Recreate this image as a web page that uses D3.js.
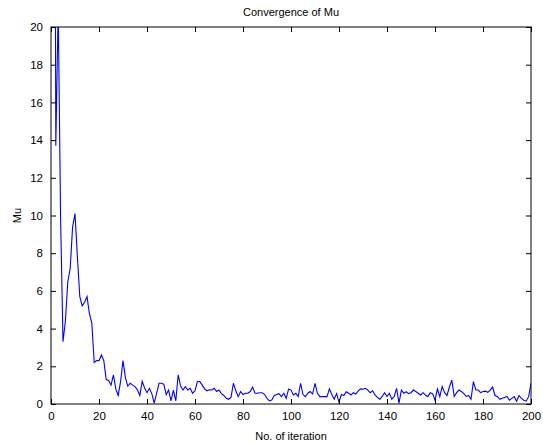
<!DOCTYPE html>
<html>
<head>
<meta charset="utf-8">
<script src="https://cdn.jsdelivr.net/npm/d3@7"></script>
<style>
  body { margin: 0; background: #fff; }
  text { font-family: "Liberation Sans", "DejaVu Sans", sans-serif; fill: #000; }
</style>
</head>
<body>
<div id="chart"></div>
<script>
// Mu value per iteration (1..200) (first one is far off the scale)
var muValues = [
  60, 13.7, 21, 9.85, 3.3, 4.4, 6.5, 7.2, 9.4, 10.1,
  7.8, 5.7, 5.2, 5.4, 5.7, 4.8, 4.3, 2.2, 2.3, 2.3,
  2.6, 2.3, 1.3, 1.25, 1.0, 1.55, 0.8, 0.45, 1.2, 2.3,
  1.4, 0.95, 1.1, 1.0, 0.92, 0.75, 0.45, 1.2, 0.85, 0.6,
  0.83, 0.55, 0.05, 0.57, 1.1, 1.1, 1.05, 0.5, 0.74, 0.17,
  0.74, 0.17, 1.55, 0.95, 0.74, 0.92, 0.74, 0.83, 0.57, 0.7,
  1.19, 1.19, 1.0, 0.8, 0.7, 0.75, 0.74, 0.83, 0.66, 0.74,
  0.55, 0.45, 0.3, 0.25, 0.35, 1.1, 0.7, 0.39, 0.66, 0.5,
  0.57, 0.57, 0.66, 0.9, 0.57, 0.57, 0.6, 0.6, 0.5, 0.3,
  0.17, 0.21, 0.45, 0.5, 0.55, 0.39, 0.57, 0.3, 0.8, 0.74,
  0.48, 0.57, 0.39, 1.1, 0.5, 0.39, 0.57, 0.66, 0.53, 1.1,
  0.57, 0.39, 0.39, 0.39, 0.39, 0.8, 0.5, 0.25, 0.55, 0.1,
  0.5, 0.45, 0.65, 0.57, 0.48, 0.6, 0.53, 0.7, 0.8, 0.78,
  0.83, 0.74, 0.6, 0.7, 0.48, 0.35, 0.25, 0.4, 0.6, 0.4,
  0.57, 0.25, 0.4, 0.83, 0.05, 0.74, 0.57, 0.65, 0.55, 0.6,
  0.74, 0.66, 0.57, 0.48, 0.6, 0.48, 0.39, 0.6, 0.55, 0.2,
  0.8, 0.39, 0.92, 0.6, 0.45, 0.9, 1.27, 0.4, 0.6, 0.74,
  0.66, 0.55, 0.4, 0.45, 0.25, 1.19, 0.75, 0.74, 0.6, 0.66,
  0.68, 0.62, 0.74, 0.9, 0.45, 0.4, 0.25, 0.3, 0.35, 0.4,
  0.2, 0.3, 0.39, 0.15, 0.45, 0.3, 0.2, 0.15, 0.39, 1.1
];
var xTicks = [0, 20, 40, 60, 80, 100, 120, 140, 160, 180, 200];
var yTicks = [0, 2, 4, 6, 8, 10, 12, 14, 16, 18, 20];
var chartTitle = "Convergence of Mu";
var xLabel = "No. of iteration";
var yLabel = "Mu";

var width = 543, height = 443;
var margin = { top: 27, right: 12, bottom: 39, left: 51 };
var innerW = width - margin.left - margin.right,
    innerH = height - margin.top - margin.bottom;

var svg = d3.select("#chart").append("svg")
    .attr("width", width)
    .attr("height", height);

var x = d3.scaleLinear().domain([0, 200]).range([0, innerW]);
var y = d3.scaleLinear().domain([0, 20]).range([innerH, 0]);

var g = svg.append("g")
    .attr("transform", "translate(" + margin.left + "," + margin.top + ")");

g.append("clipPath").attr("id", "plot-clip")
  .append("rect").attr("width", innerW).attr("height", innerH);

var line = d3.line()
    .x(function(d, i) { return x(i + 1); })
    .y(function(d) { return y(d); });

g.append("path")
    .datum(muValues)
    .attr("clip-path", "url(#plot-clip)")
    .attr("fill", "none")
    .attr("stroke", "#0000ff")
    .attr("stroke-width", 1.1)
    .attr("d", line);

// axes, matlab style: ticks inward on all four sides
function styleAxis(sel) {
  sel.select(".domain").remove();
  sel.selectAll(".tick line").attr("stroke", "#000");
  sel.selectAll(".tick text").style("font-size", "11.5px");
}

g.append("g")
    .attr("transform", "translate(0," + innerH + ")")
    .call(d3.axisBottom(x).tickValues(xTicks).tickSizeInner(-5).tickSizeOuter(0).tickPadding(8))
    .call(styleAxis);

g.append("g")
    .call(d3.axisTop(x).tickValues(xTicks).tickSizeInner(-5).tickSizeOuter(0).tickFormat(""))
    .call(styleAxis);

g.append("g")
    .call(d3.axisLeft(y).tickValues(yTicks).tickSizeInner(-5).tickSizeOuter(0).tickPadding(8))
    .call(styleAxis);

g.append("g")
    .attr("transform", "translate(" + innerW + ",0)")
    .call(d3.axisRight(y).tickValues(yTicks).tickSizeInner(-5).tickSizeOuter(0).tickFormat(""))
    .call(styleAxis);

g.append("rect")
    .attr("width", innerW)
    .attr("height", innerH)
    .attr("fill", "none")
    .attr("stroke", "#000")
    .attr("stroke-width", 1);

svg.append("text")
    .attr("x", margin.left + innerW / 2)
    .attr("y", 16)
    .attr("text-anchor", "middle")
    .style("font-size", "11px")
    .text(chartTitle);

svg.append("text")
    .attr("x", margin.left + innerW / 2)
    .attr("y", 440)
    .attr("text-anchor", "middle")
    .style("font-size", "11px")
    .text(xLabel);

svg.append("text")
    .attr("transform", "translate(21," + (margin.top + innerH / 2) + ") rotate(-90)")
    .attr("text-anchor", "middle")
    .style("font-size", "11px")
    .text(yLabel);
</script>
</body>
</html>
